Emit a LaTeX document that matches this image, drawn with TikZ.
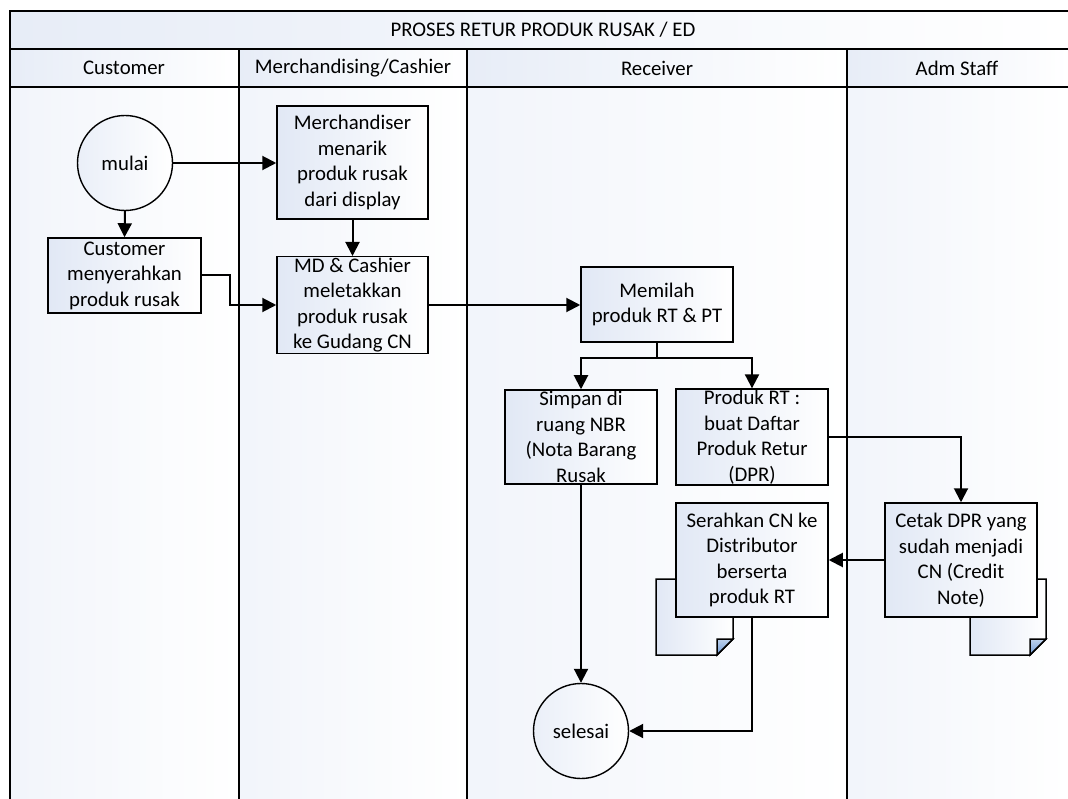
\documentclass[tikz,border=0pt]{standalone}
\usepackage{fontspec}
\setmainfont{Carlito}
\usetikzlibrary{arrows.meta}
\definecolor{tint}{HTML}{E1E8F5}
\definecolor{foldblue}{HTML}{6F9BD6}

\tikzset{
  txt/.style={font=\fontsize{20.8}{25.5}\selectfont},
  laneline/.style={draw=black, line width=1.4pt},
  proc/.style={txt, draw=black, line width=1.5pt, rectangle, align=center,
    inner sep=1pt, left color=tint, right color=white},
  term/.style={txt, draw=black, line width=1.4pt, circle, inner sep=0pt,
    minimum size=95pt, left color=tint!70, right color=white},
  flow/.style={line width=2pt, -{Triangle[length=14pt,width=14pt]}},
  docsheet/.style={draw=black, line width=1.5pt, left color=tint, right color=white},
  docfold/.style={draw=black, line width=1.5pt, top color=foldblue!45, bottom color=foldblue},
}

% page of documents with a turned-down lower right corner
\newcommand{\docpage}[4]{%
  \path[docsheet] (#1,#2) -- (#3,#2) -- (#3,#4-16) -- (#3-16,#4) -- (#1,#4) -- cycle;
  \path[docfold] (#3-16,#4) -- (#3-16,#4-16) -- (#3,#4-16) -- cycle;
}

\begin{document}
\begin{tikzpicture}[x=1pt,y=-1pt]
\useasboundingbox (0,0) rectangle (1068,799);
\fill[white] (0,0) rectangle (1068,799);

% swimlane backgrounds
\fill[left color=tint!80, right color=white] (10,11) rectangle (1068,49);
\foreach \a/\b in {10/239, 239/467, 467/847, 847/1068}{
  \fill[left color=tint!80, right color=white] (\a,49) rectangle (\b,87);
  \fill[left color=tint!45, right color=white] (\a,87) rectangle (\b,799);
}
% swimlane frame
\draw[laneline] (10,799) -- (10,11) -- (1068,11);
\draw[laneline] (10,49) -- (1068,49);
\draw[laneline] (10,87) -- (1068,87);
\foreach \x in {239, 467, 847}{ \draw[laneline] (\x,49) -- (\x,799); }

% titles
\node[txt] (title) at (543,30) {PROSES RETUR PRODUK RUSAK / ED};
\node[txt] (hcust) at (124,68) {Customer};
\node[txt] (hmerch) at (353,68) {Merchandising/Cashier};
\node[txt] (hrecv) at (657,68) {Receiver};
\node[txt] (hadm) at (957,68) {Adm Staff};

% document pages behind the last two steps
\docpage{656}{579}{733}{655}
\docpage{970}{579}{1046}{655}

% steps
\node[term] (mulai) at (125,163) {mulai};
\node[proc, minimum width=151pt, minimum height=113pt] (merch) at (352.5,162.5)
  {Merchandiser\\menarik\\produk rusak\\dari display};
\node[proc, minimum width=153pt, minimum height=75pt] (cust) at (124.5,275.5)
  {Customer\\menyerahkan\\produk rusak};
\node[proc, minimum width=151pt, minimum height=96pt] (mdc) at (352.5,305)
  {MD \& Cashier\\meletakkan\\produk rusak\\ke Gudang CN};
\node[proc, minimum width=152pt, minimum height=75pt] (memilah) at (657,304.5)
  {Memilah\\produk RT \& PT};
\node[proc, minimum width=152pt, minimum height=94pt] (simpan) at (581,437)
  {Simpan di\\ruang NBR\\(Nota Barang\\Rusak};
\node[proc, minimum width=152pt, minimum height=94pt] (prt) at (752,437)
  {Produk RT :\\buat Daftar\\Produk Retur\\(DPR)};
\node[proc, minimum width=152pt, minimum height=114pt] (serah) at (752,560)
  {Serahkan CN ke\\Distributor\\berserta\\produk RT};
\node[proc, minimum width=152pt, minimum height=114pt] (cetak) at (961,560)
  {Cetak DPR yang\\sudah menjadi\\CN (Credit\\Note)};
\node[term] (selesai) at (581,731) {selesai};

% flow
\draw[flow] (mulai.east) -- (mulai.east -| merch.west);
\draw[flow] (mulai.south) -- (cust.north);
\draw[flow] (merch.south) -- (mdc.north);
\draw[flow] (cust.east) -- ++(28,0) |- (mdc.west);
\draw[flow] (mdc.east) -- (mdc.east -| memilah.west);
\draw[line width=2pt] (memilah.south) -- ++(0,15) coordinate (split);
\draw[flow] (split) -| (simpan.north);
\draw[flow] (split) -| (prt.north);
\draw[flow] (prt.east) -| (cetak.north);
\draw[flow] (cetak.west) -- (serah.east);
\draw[flow] (simpan.south) -- (selesai.north);
\draw[flow] (serah.south) |- (selesai.east);
\end{tikzpicture}
\end{document}
